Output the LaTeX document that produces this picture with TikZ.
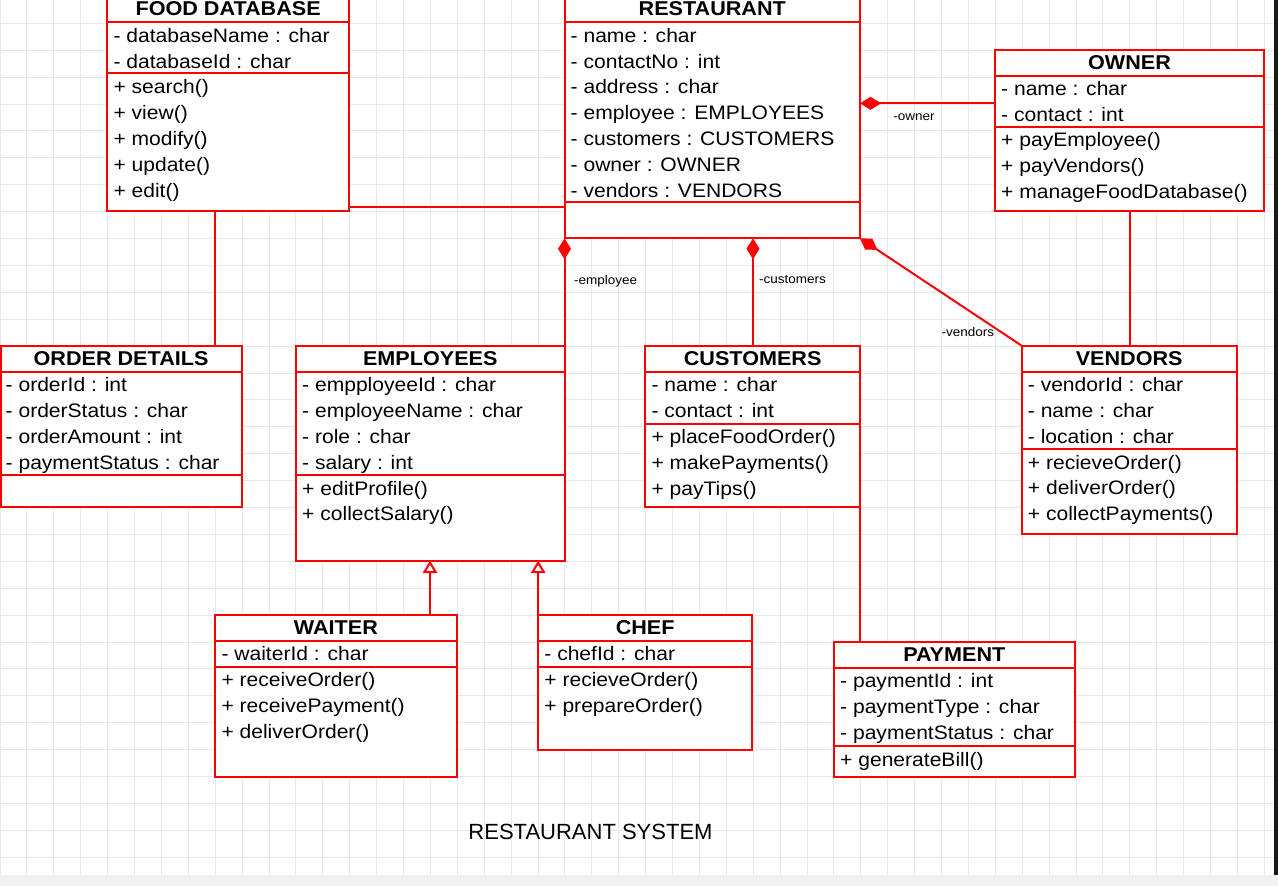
\documentclass[tikz,border=0pt]{standalone}
\usepackage{fontspec}
\setmainfont{Liberation Sans}
\newfontfamily\umlfont[FakeStretch=1.08]{Liberation Sans}
\usetikzlibrary{arrows.meta}
\definecolor{umlred}{RGB}{255,0,0}
\definecolor{gridgray}{RGB}{232,232,232}

\begin{document}
\begin{tikzpicture}[x=1pt,y=-1pt]
	\tikzstyle{unit} = [rectangle,draw=umlred,line width=2pt,fill=white,anchor=north west,inner sep=0pt,outer sep=0pt]
	\tikzstyle{sep} = [draw=umlred,line width=2pt]
	\tikzstyle{cname} = [inner sep=0pt,font=\umlfont\fontsize{20}{20}\selectfont\bfseries]
	\tikzstyle{row} = [anchor=base west,inner sep=0pt,font=\umlfont\fontsize{19.5}{22}\selectfont]
	\tikzstyle{role} = [inner sep=0pt,font=\umlfont\fontsize{12.5}{14}\selectfont,text=black]
	\tikzstyle{link} = [draw=umlred,line width=2pt]
	\tikzstyle{comp} = [link,{Diamond[length=21pt,width=13pt]}-]
	\tikzstyle{gen} = [link,-{Triangle[open,length=12.5pt,width=14.5pt,fill=white]}]
	
	% paper and grid
	\useasboundingbox (0,0) rectangle (1278,886);
	\fill[white] (0,0) rectangle (1278,886);
	\foreach \i in {0,...,47}
		\draw[gridgray,line width=1pt] ({26.9*\i},0) -- ({26.9*\i},875);
	\foreach \j in {0,...,31}
		\draw[gridgray,line width=1pt] (0,{23.3+26.9*\j}) -- (1274,{23.3+26.9*\j});
	\fill[gray!10] (0,875) rectangle (1278,886);
	\fill[black!90] (1274.3,0) rectangle (1278,875);
	
	% classes
	\node[unit,minimum width=241.7,minimum height=214.7] (fooddb) at (107.3,-4) {};
	\node[cname] at ([yshift=-13pt]fooddb.north) {FOOD DATABASE};
	\draw[sep] (fooddb.west |- 0,22.3) -- (fooddb.east |- 0,22.3);
	\draw[sep] (fooddb.west |- 0,73.3) -- (fooddb.east |- 0,73.3);
	\foreach \t [count=\i] in {- databaseName : char, - databaseId : char}
		\node[row] at (113.3,{42.3+25.8*(\i-1)}) {\t};
	\foreach \t [count=\i] in {+ search(), + view(), + modify(), + update(), + edit()}
		\node[row] at (113.3,{93.8+25.8*(\i-1)}) {\t};
	
	\node[unit,minimum width=295.5,minimum height=242.3] (restaurant) at (564.5,-4) {};
	\node[cname] at ([yshift=-13pt]restaurant.north) {RESTAURANT};
	\draw[sep] (restaurant.west |- 0,22.3) -- (restaurant.east |- 0,22.3);
	\draw[sep] (restaurant.west |- 0,202.3) -- (restaurant.east |- 0,202.3);
	\foreach \t [count=\i] in {- name : char, - contactNo : int, - address : char, - employee : EMPLOYEES, - customers : CUSTOMERS, - owner : OWNER, - vendors : VENDORS}
		\node[row] at (570.5,{42.3+25.8*(\i-1)}) {\t};
	
	\node[unit,minimum width=269,minimum height=160.7] (owner) at (995,50) {};
	\node[cname] at ([yshift=-13pt]owner.north) {OWNER};
	\draw[sep] (owner.west |- 0,75.7) -- (owner.east |- 0,75.7);
	\draw[sep] (owner.west |- 0,126.7) -- (owner.east |- 0,126.7);
	\foreach \t [count=\i] in {- name : char, - contact : int}
		\node[row] at (1001,{95.7+25.8*(\i-1)}) {\t};
	\foreach \t [count=\i] in {+ payEmployee(), + payVendors(), + manageFoodDatabase()}
		\node[row] at (1001,{146.7+25.8*(\i-1)}) {\t};
	
	\node[unit,minimum width=241.1,minimum height=161] (orderdet) at (0.5,345.7) {};
	\node[cname] at ([yshift=-13pt]orderdet.north) {ORDER DETAILS};
	\draw[sep] (orderdet.west |- 0,371.7) -- (orderdet.east |- 0,371.7);
	\draw[sep] (orderdet.west |- 0,475) -- (orderdet.east |- 0,475);
	\foreach \t [count=\i] in {- orderId : int, - orderStatus : char, - orderAmount : int, - paymentStatus : char}
		\node[row] at (5.5,{391.7+25.8*(\i-1)}) {\t};
	
	\node[unit,minimum width=268.5,minimum height=215] (employees) at (296,345.7) {};
	\node[cname] at ([yshift=-13pt]employees.north) {EMPLOYEES};
	\draw[sep] (employees.west |- 0,371.7) -- (employees.east |- 0,371.7);
	\draw[sep] (employees.west |- 0,475) -- (employees.east |- 0,475);
	\foreach \t [count=\i] in {- empployeeId : char, - employeeName : char, - role : char, - salary : int}
		\node[row] at (302,{391.7+25.8*(\i-1)}) {\t};
	\foreach \t [count=\i] in {+ editProfile(), + collectSalary()}
		\node[row] at (302,{495+25.8*(\i-1)}) {\t};
	
	\node[unit,minimum width=214.7,minimum height=161] (customers) at (645.3,345.7) {};
	\node[cname] at ([yshift=-13pt]customers.north) {CUSTOMERS};
	\draw[sep] (customers.west |- 0,371.7) -- (customers.east |- 0,371.7);
	\draw[sep] (customers.west |- 0,424) -- (customers.east |- 0,424);
	\foreach \t [count=\i] in {- name : char, - contact : int}
		\node[row] at (651.3,{391.7+25.8*(\i-1)}) {\t};
	\foreach \t [count=\i] in {+ placeFoodOrder(), + makePayments(), + payTips()}
		\node[row] at (651.3,{443.7+25.8*(\i-1)}) {\t};
	
	\node[unit,minimum width=215,minimum height=188.3] (vendors) at (1021.7,345.7) {};
	\node[cname] at ([yshift=-13pt]vendors.north) {VENDORS};
	\draw[sep] (vendors.west |- 0,371.7) -- (vendors.east |- 0,371.7);
	\draw[sep] (vendors.west |- 0,449) -- (vendors.east |- 0,449);
	\foreach \t [count=\i] in {- vendorId : char, - name : char, - location : char}
		\node[row] at (1027.7,{391.7+25.8*(\i-1)}) {\t};
	\foreach \t [count=\i] in {+ recieveOrder(), + deliverOrder(), + collectPayments()}
		\node[row] at (1027.7,{469+25.8*(\i-1)}) {\t};
	
	\node[unit,minimum width=241.2,minimum height=161.7] (waiter) at (215.3,615) {};
	\node[cname] at ([yshift=-13pt]waiter.north) {WAITER};
	\draw[sep] (waiter.west |- 0,640.7) -- (waiter.east |- 0,640.7);
	\draw[sep] (waiter.west |- 0,666.7) -- (waiter.east |- 0,666.7);
	\node[row] at (221.3,660.7) {- waiterId : char};
	\foreach \t [count=\i] in {+ receiveOrder(), + receivePayment(), + deliverOrder()}
		\node[row] at (221.3,{686.7+25.8*(\i-1)}) {\t};
	
	\node[unit,minimum width=214,minimum height=135] (chef) at (538.2,615) {};
	\node[cname] at ([yshift=-13pt]chef.north) {CHEF};
	\draw[sep] (chef.west |- 0,640.7) -- (chef.east |- 0,640.7);
	\draw[sep] (chef.west |- 0,666.7) -- (chef.east |- 0,666.7);
	\node[row] at (544.2,660.7) {- chefId : char};
	\foreach \t [count=\i] in {+ recieveOrder(), + prepareOrder()}
		\node[row] at (544.2,{686.7+25.8*(\i-1)}) {\t};
	
	\node[unit,minimum width=240.6,minimum height=135] (payment) at (834,641.7) {};
	\node[cname] at ([yshift=-13pt]payment.north) {PAYMENT};
	\draw[sep] (payment.west |- 0,667.7) -- (payment.east |- 0,667.7);
	\draw[sep] (payment.west |- 0,746) -- (payment.east |- 0,746);
	\foreach \t [count=\i] in {- paymentId : int, - paymentType : char, - paymentStatus : char}
		\node[row] at (840,{687.7+25.8*(\i-1)}) {\t};
	\node[row] at (840,766) {+ generateBill()};
	
	% connectors
	\draw[link] (fooddb.east |- 0,206.7) -- (restaurant.west |- 0,206.7);
	\draw[link] (fooddb.south -| 215,0) -- (orderdet.north -| 215,0);
	\draw[comp] (restaurant.south west) -- (employees.north east) node[role,pos=0.4,anchor=west,xshift=8.5pt]{-employee};
	\draw[comp] (restaurant.south -| 753,0) -- (customers.north -| 753,0) node[role,pos=0.38,anchor=west,xshift=5pt]{-customers};
	\draw[comp] (restaurant.east |- 0,103.3) -- (owner.west |- 0,103.3) node[role,pos=0.4,yshift=-14pt]{-owner};
	\draw[comp] (restaurant.south east) -- (vendors.north west) node[role,pos=1,anchor=south east,xshift=-26.5pt,yshift=8pt]{-vendors};
	\draw[link] (owner.south) -- (vendors.north -| owner.south);
	\draw[gen] (waiter.north -| 430,0) -- (employees.south -| 430,0);
	\draw[gen] (chef.north west) -- (employees.south -| chef.west);
	\draw[link] (customers.south east) -- (payment.north -| customers.east);
	
	\node[font=\fontsize{22}{26}\selectfont] (caption) at (590.5,831.5) {RESTAURANT SYSTEM};
\end{tikzpicture}
\end{document}
